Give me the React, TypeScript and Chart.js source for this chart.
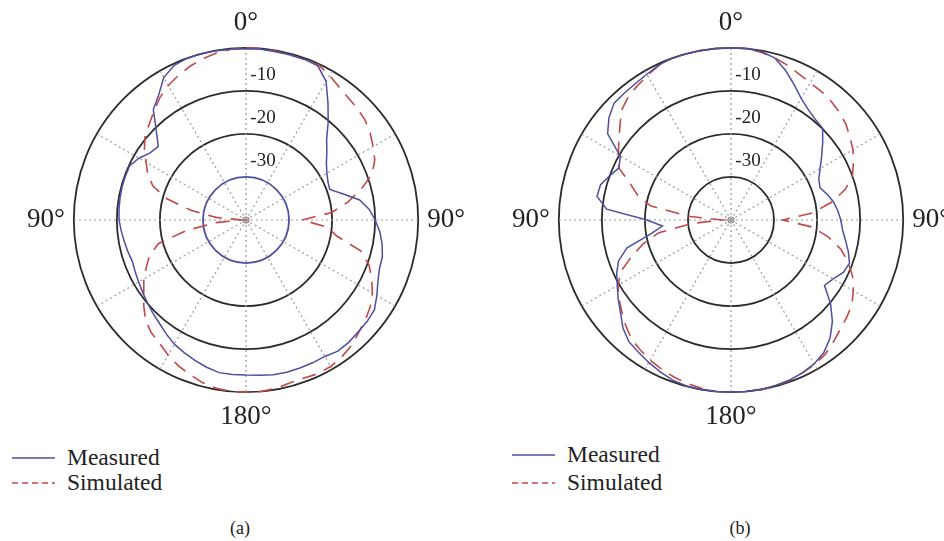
import React, { useEffect, useRef } from 'react';
import { Chart, registerables } from 'chart.js';

Chart.register(...registerables);

// Angle categories (degrees, clockwise from top)
const angles = [
  0, 5, 10, 15, 20, 25, 30, 35, 40, 45, 50, 55,
  60, 65, 70, 75, 80, 85, 90, 95, 100, 105, 110, 115,
  120, 125, 130, 135, 140, 145, 150, 155, 160, 165, 170, 175,
  180, 185, 190, 195, 200, 205, 210, 215, 220, 225, 230, 235,
  240, 245, 250, 255, 260, 265, 270, 275, 280, 285, 290, 295,
  300, 305, 310, 315, 320, 325, 330, 335, 340, 345, 350, 355,
];

// Direction labels shown around the plot
const directionAngles = [0, 90, 180, 270];
const directionTexts = ['0°', '90°', '180°', '90°'];

// Ring labels (dB)
const ringTicks = [-10, -20, -30];

// (a) values in dB
const measuredA = [
  -0.2, -0.2, -0.3, -0.3, -0.3, -0.5, -2.8, -6.8, -10.3, -13.5, -15.5, -17.2,
  -18.3, -19.0, -19.3, -16.6, -13.2, -11.3, -10.0, -8.8, -7.9, -7.2, -7.0, -6.2,
  -4.9, -3.6, -3.3, -3.2, -2.9, -2.8, -3.4, -3.4, -3.4, -3.4, -3.5, -3.8,
  -4.0, -4.0, -4.0, -4.6, -5.3, -6.0, -6.7, -7.7, -8.7, -9.4, -10.1, -10.7,
  -11.2, -11.6, -11.9, -11.6, -11.3, -10.9, -10.5, -10.4, -10.3, -10.2, -10.2, -10.2,
  -11.3, -12.8, -13.4, -10.5, -6.5, -4.6, -1.8, -0.4, 0, 0, -0.1, -0.2,
];
const simulatedA = [
  0, 0, -0.2, -0.3, -0.3, -0.2, -1.2, -2.3, -3.0, -3.4, -3.9, -4.8,
  -5.9, -7.0, -8.8, -12.3, -16.0, -20.0, -27.0, -21.0, -18.6, -12.5, -9.6, -7.8,
  -6.1, -4.8, -3.8, -3.0, -1.9, -1.2, -0.7, -0.6, -0.9, -0.8, -0.3, 0,
  0, 0, -0.3, -0.9, -1.8, -2.7, -3.8, -5.0, -5.8, -7.0, -9.0, -11.0,
  -12.6, -14.5, -16.2, -19.0, -26.0, -33.0, -39.0, -33.0, -27.0, -21.0, -17.0, -14.8,
  -13.2, -11.2, -9.4, -8.3, -6.8, -5.2, -3.9, -2.9, -2.0, -1.2, -0.6, -0.2,
];

// (b) values in dB
const measuredB = [
  0, 0, -0.2, -1.0, -3.0, -5.3, -7.4, -8.7, -9.5, -9.9, -12.2, -14.3,
  -16.1, -17.5, -18.0, -16.9, -15.8, -15.1, -14.5, -14.0, -13.0, -11.8, -10.7, -11.2,
  -12.6, -13.5, -9.8, -6.7, -4.2, -2.4, -1.4, -0.8, -0.4, -0.2, 0, 0,
  0, 0, 0, -0.1, -0.4, -1.1, -1.8, -2.5, -3.1, -4.5, -6.5, -8.0,
  -9.5, -10.7, -12.2, -15.0, -21.0, -24.0, -20.5, -11.0, -8.4, -8.6, -10.0, -11.3,
  -10.3, -5.0, -3.0, -1.6, -1.5, -1.3, -0.9, -0.3, 0, 0, 0, 0,
];
const simulatedB = [
  0, 0, -0.4, -1.0, -1.7, -2.6, -3.2, -3.5, -3.9, -4.5, -5.2, -6.3,
  -7.3, -8.6, -10.0, -12.5, -16.3, -21.0, -28.0, -21.0, -17.0, -13.5, -11.0, -8.8,
  -7.2, -5.7, -4.9, -4.1, -3.0, -1.9, -1.2, -0.8, -0.3, 0, 0, 0,
  0, 0, -0.3, -0.7, -1.2, -1.8, -2.4, -3.2, -4.0, -5.4, -6.9, -8.2,
  -9.7, -11.8, -15.5, -19.0, -23.0, -31.0, -38.0, -30.0, -21.0, -17.5, -15.0, -11.2,
  -9.8, -8.2, -6.3, -4.0, -2.8, -2.0, -1.2, -0.4, 0, 0, 0, 0,
];

const BLUE = '#4f4f9f';
const RED = '#c24848';
const RING = '#2b2b2b';
const SERIF = '"Liberation Serif", "Times New Roman", serif';

const ringLabelPlugin = {
  id: 'ringLabels',
  afterDraw(chart: any) {
    const s = chart.scales.r;
    const ctx = chart.ctx;
    ctx.save();
    ctx.font = `19px ${SERIF}`;
    ctx.fillStyle = '#222';
    ctx.textAlign = 'center';
    ctx.textBaseline = 'middle';
    ringTicks.forEach((v) => {
      const d = s.getDistanceFromCenterForValue(v);
      ctx.fillText(String(v), s.xCenter + 17, s.yCenter - d - 16);
    });
    ctx.beginPath();
    ctx.arc(s.xCenter, s.yCenter, 3, 0, Math.PI * 2);
    ctx.strokeStyle = '#8a8a8a';
    ctx.lineWidth = 1.2;
    ctx.stroke();
    ctx.restore();
  },
};

function PolarChart(props: { measured: number[]; simulated: number[]; blueRing: boolean; left: number; top: number }) {
  const ref = useRef<HTMLCanvasElement | null>(null);
  useEffect(() => {
    if (!ref.current) return;
    const chart = new Chart(ref.current, {
      type: 'radar',
      data: {
        labels: angles,
        datasets: [
          {
            label: 'Measured',
            data: props.measured,
            borderColor: BLUE,
            borderWidth: 1.5,
            pointRadius: 0,
            fill: false,
            tension: 0,
          },
          {
            label: 'Simulated',
            data: props.simulated,
            borderColor: RED,
            borderWidth: 1.6,
            borderDash: [14, 9],
            pointRadius: 0,
            fill: false,
            tension: 0,
          },
        ],
      },
      options: {
        responsive: false,
        animation: false,
        layout: { padding: 0 },
        plugins: { legend: { display: false }, tooltip: { enabled: false } },
        scales: {
          r: {
            min: -40,
            max: 0,
            startAngle: 0,
            ticks: { stepSize: 10, display: false },
            grid: {
              circular: true,
              color: (c: any) => (props.blueRing && c.tick && c.tick.value === -30 ? BLUE : RING),
              lineWidth: 1.8,
            },
            angleLines: {
              display: true,
              color: '#9a9a9a',
              lineWidth: (c: any) => (angles[c.index] % 30 === 0 ? 1.2 : 0),
              borderDash: [2, 3],
            },
            pointLabels: {
              display: true,
              padding: 9,
              color: '#222',
              font: { family: SERIF, size: 27 },
              callback: (label: any) => {
                const k = directionAngles.indexOf(Number(label));
                return k >= 0 ? directionTexts[k] : '';
              },
            },
          },
        },
      } as any,
      plugins: [ringLabelPlugin],
    });
    return () => chart.destroy();
  }, []);
  return (
    <canvas
      ref={ref}
      width={438}
      height={438}
      style={{ position: 'absolute', left: props.left, top: props.top, width: 438, height: 438 }}
    />
  );
}

function LegendBlock(props: { x: number; y1: number; y2: number; textX: number }) {
  const { x, y1, y2, textX } = props;
  const textStyle: React.CSSProperties = {
    position: 'absolute',
    left: textX,
    fontFamily: SERIF,
    fontSize: 23.5,
    lineHeight: '28px',
    height: 28,
    color: '#222',
    whiteSpace: 'nowrap',
  };
  return (
    <>
      <svg style={{ position: 'absolute', left: x, top: y1 - 3, overflow: 'visible' }} width={44} height={6}>
        <line x1={0} y1={3} x2={43} y2={3} stroke={BLUE} strokeWidth={1.6} />
      </svg>
      <div style={{ ...textStyle, top: y1 - 15 }}>Measured</div>
      <svg style={{ position: 'absolute', left: x, top: y2 - 3, overflow: 'visible' }} width={44} height={6}>
        <line x1={0} y1={3} x2={43} y2={3} stroke={RED} strokeWidth={1.4} strokeDasharray="6 4" />
      </svg>
      <div style={{ ...textStyle, top: y2 - 15 }}>Simulated</div>
    </>
  );
}

const captionStyle: React.CSSProperties = {
  position: 'absolute',
  width: 80,
  textAlign: 'center',
  fontFamily: SERIF,
  fontSize: 18,
  lineHeight: '22px',
  color: '#222',
};

export default function App() {
  return (
    <div
      style={{
        position: 'absolute',
        left: 0,
        top: 0,
        width: 944,
        height: 541,
        overflow: 'hidden',
        background: '#fff',
      }}
    >
      <PolarChart measured={measuredA} simulated={simulatedA} blueRing={true} left={27} top={1} />
      <PolarChart measured={measuredB} simulated={simulatedB} blueRing={false} left={512} top={1} />
      <LegendBlock x={12} y1={458} y2={483} textX={67} />
      <LegendBlock x={512} y1={455} y2={483} textX={567} />
      <div style={{ ...captionStyle, left: 200, top: 517 }}>(a)</div>
      <div style={{ ...captionStyle, left: 700, top: 517 }}>(b)</div>
    </div>
  );
}
